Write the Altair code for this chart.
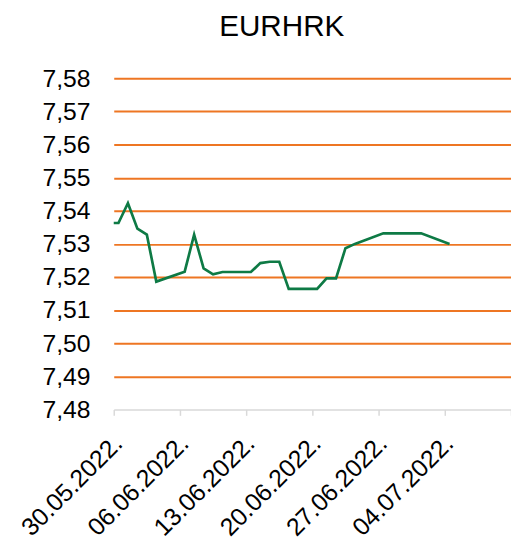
import altair as alt
import pandas as pd

dates = ["2022-05-27", "2022-05-30", "2022-05-31", "2022-06-01", "2022-06-02", "2022-06-03",
         "2022-06-06", "2022-06-07", "2022-06-08", "2022-06-09", "2022-06-10",
         "2022-06-13", "2022-06-14", "2022-06-15", "2022-06-16", "2022-06-17",
         "2022-06-20", "2022-06-21", "2022-06-22", "2022-06-23", "2022-06-24",
         "2022-06-27", "2022-06-28", "2022-06-29", "2022-06-30", "2022-07-01",
         "2022-07-04"]
values = [7.5363, 7.5363, 7.5423, 7.5346, 7.5328, 7.5186,
          7.5216, 7.5328, 7.5226, 7.5208, 7.5215,
          7.5215, 7.5242, 7.5246, 7.5246, 7.5164,
          7.5164, 7.5196, 7.5196, 7.5287, 7.5300,
          7.5332, 7.5332, 7.5332, 7.5332, 7.5332,
          7.5300]
y_ticks = [7.48, 7.49, 7.50, 7.51, 7.52, 7.53, 7.54, 7.55, 7.56, 7.57, 7.58]
x_tick_days = [(5, 30), (6, 6), (6, 13), (6, 20), (6, 27), (7, 4), (7, 11)]

df = pd.DataFrame({"date": [d + "T12:00:00" for d in dates], "value": values})

FONT = "Liberation Sans"

chart = alt.Chart(df).mark_line(color="#0E7A45", strokeWidth=2.7, clip=True).encode(
    x=alt.X(
        "date:T",
        scale=alt.Scale(domain=[alt.DateTime(year=2022, month=5, date=30),
                                alt.DateTime(year=2022, month=7, date=11)]),
        axis=alt.Axis(
            title=None,
            values=[alt.DateTime(year=2022, month=m, date=d) for m, d in x_tick_days],
            labelExpr="datum.value > datetime(2022, 6, 8) ? '' : timeFormat(datum.value, '%d.%m.%Y.')",
            labelAngle=-45,
            labelAlign="right",
            labelBaseline="middle",
            labelPadding=24,
            labelOffset=4,
            labelFontSize=25,
            labelFont=FONT,
            labelColor="#000000",
            labelOverlap=False,
            labelBound=False,
            labelFlush=False,
            domainColor="#D9D9D9",
            domainWidth=1.5,
            tickColor="#D9D9D9",
            tickWidth=1.5,
            tickSize=6,
            grid=False,
            zindex=1,
        ),
    ),
    y=alt.Y(
        "value:Q",
        scale=alt.Scale(domain=[7.48, 7.58], nice=False, zero=False),
        axis=alt.Axis(
            title=None,
            values=y_ticks,
            labelExpr="replace(format(datum.value, '.2f'), '.', ',')",
            labelFontSize=25,
            labelFont=FONT,
            labelColor="#000000",
            labelPadding=24,
            ticks=False,
            domain=False,
            grid=True,
            gridColor={"condition": {"test": "datum.value < 7.485", "value": "transparent"},
                       "value": "#EE7623"},
            gridWidth=2,
        ),
    ),
).properties(
    width=402,
    height=335,
    title=alt.TitleParams(
        text="EURHRK",
        fontSize=30,
        font=FONT,
        fontWeight="normal",
        color="#000000",
        anchor="middle",
        dx=-31,
        offset=25,
    ),
    autosize=alt.AutoSizeParams(type="none"),
    padding={"left": 107, "top": 68, "right": 0, "bottom": 134},
).configure_view(stroke=None)

chart.save("out.html", embed_options={"renderer": "svg", "actions": False})
